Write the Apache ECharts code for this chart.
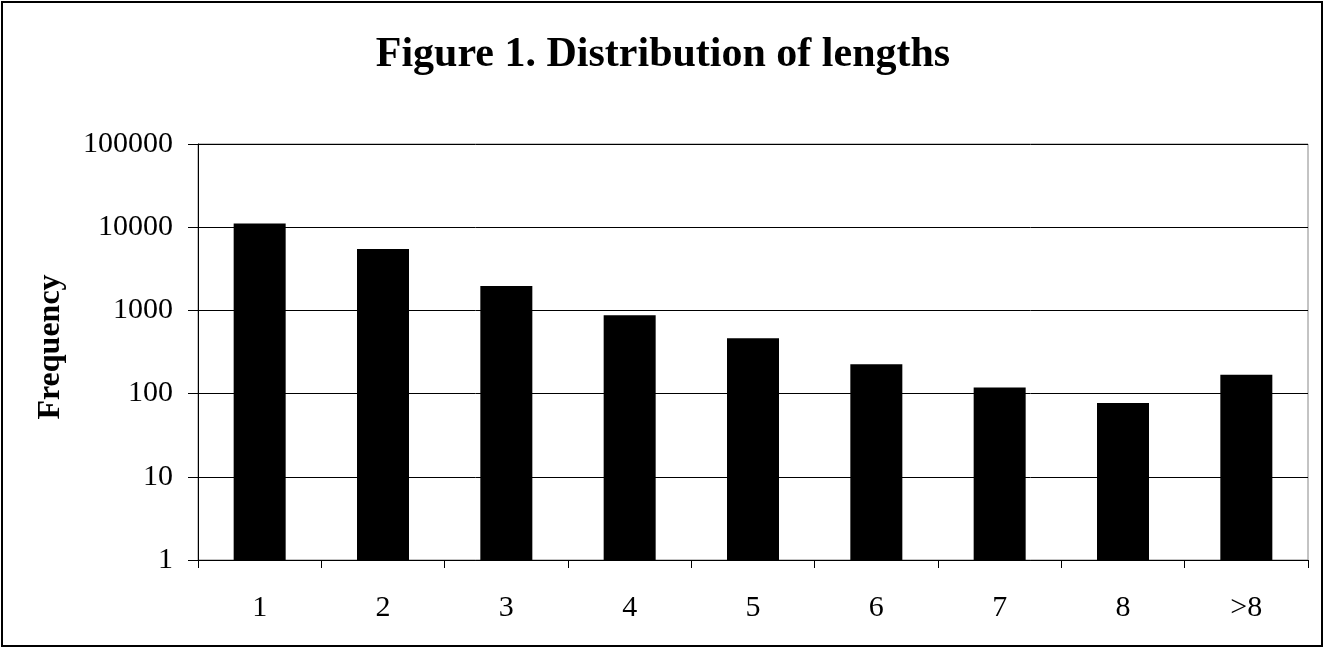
<!DOCTYPE html>
<html>
<head>
<meta charset="utf-8">
<script src="https://cdn.jsdelivr.net/npm/echarts@6/dist/echarts.min.js"></script>
<style>
html,body{margin:0;padding:0;background:#fff;}
#chart{width:1326px;height:648px;}
</style>
</head>
<body>
<div id="chart"></div>
<script>
const categories = ['1', '2', '3', '4', '5', '6', '7', '8', '>8'];
const frequencies = [11100, 5470, 1960, 877, 464, 225, 118, 77, 168];
const titleText = 'Figure 1. Distribution of lengths';
const yAxisName = 'Frequency';

const FONT = "'Liberation Serif', 'Times New Roman', serif";
const chart = echarts.init(document.getElementById('chart'), null, {renderer: 'canvas'});
chart.setOption({
  backgroundColor: '#ffffff',
  animation: false,
  title: {
    text: titleText,
    left: 'center',
    top: 29,
    textStyle: {fontFamily: FONT, fontSize: 42, fontWeight: 'bold', color: '#000'}
  },
  graphic: [{
    type: 'rect',
    shape: {x: 2, y: 2, width: 1320, height: 644},
    style: {fill: 'none', stroke: '#000', lineWidth: 2},
    silent: true
  }],
  grid: {
    left: 198, right: 18, top: 144, bottom: 88,
    show: true, borderColor: '#888', borderWidth: 1, backgroundColor: 'transparent'
  },
  xAxis: {
    type: 'category',
    data: categories,
    axisLine: {show: true, lineStyle: {color: '#000', width: 1}},
    axisTick: {show: true, alignWithLabel: false, length: 8, lineStyle: {color: '#000'}},
    axisLabel: {fontFamily: FONT, fontSize: 30, color: '#000', margin: 33},
    splitLine: {show: false}
  },
  yAxis: {
    type: 'log',
    logBase: 10,
    min: 1,
    max: 100000,
    name: yAxisName,
    nameLocation: 'middle',
    nameGap: 131,
    nameRotate: 90,
    nameTextStyle: {fontFamily: FONT, fontSize: 32, fontWeight: 'bold', color: '#000', padding: [0, 0, 0, 10]},
    axisLine: {show: true, lineStyle: {color: '#000', width: 1}},
    axisTick: {show: true, length: 10, lineStyle: {color: '#000'}},
    axisLabel: {fontFamily: FONT, fontSize: 30, color: '#000', margin: 25,
      formatter: function (v) { return String(Math.round(v)); }},
    splitLine: {show: true, lineStyle: {color: '#000', width: 1}}
  },
  series: [{
    type: 'bar',
    data: frequencies,
    barWidth: 52,
    itemStyle: {color: '#000'}
  }]
});
</script>
</body>
</html>
